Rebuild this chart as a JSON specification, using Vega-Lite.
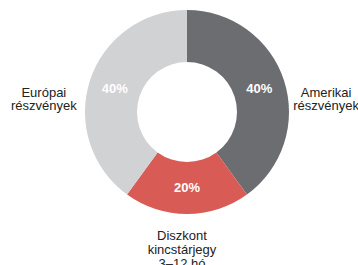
{
  "$schema": "https://vega.github.io/schema/vega-lite/v6.json",
  "width": 204,
  "height": 204,
  "autosize": {"type": "none"},
  "padding": {"left": 85, "top": 10, "right": 69, "bottom": 51},
  "background": "white",
  "config": {"view": {"stroke": null}},
  "data": {
    "values": [
      {"category": "Amerikai részvények", "label": "Amerikai\nrészvények", "value": 40, "pct": "40%"},
      {"category": "Diszkont kincstárjegy 3–12 hó", "label": "Diszkont\nkincstárjegy\n3–12 hó", "value": 20, "pct": "20%"},
      {"category": "Európai részvények", "label": "Európai\nrészvények", "value": 40, "pct": "40%"}
    ]
  },
  "encoding": {
    "theta": {"field": "value", "type": "quantitative", "stack": true},
    "order": {"field": "category", "type": "ordinal", "sort": "ascending"}
  },
  "layer": [
    {
      "mark": {"type": "arc", "outerRadius": 102, "innerRadius": 50, "strokeWidth": 0},
      "encoding": {
        "color": {
          "field": "category",
          "type": "nominal",
          "legend": null,
          "scale": {
            "domain": ["Amerikai részvények", "Diszkont kincstárjegy 3–12 hó", "Európai részvények"],
            "range": ["#6c6d70", "#d95b55", "#d1d2d4"]
          }
        }
      }
    },
    {
      "mark": {"type": "text", "radius": 76, "font": "Liberation Sans", "fontSize": 13, "fontWeight": "bold", "color": "white", "align": "center", "baseline": "middle"},
      "encoding": {"text": {"field": "pct", "type": "nominal"}}
    },
    {
      "mark": {"type": "text", "radius": 140, "dx": 6, "dy": 24, "font": "Liberation Sans", "fontSize": 13, "lineHeight": 13.5, "lineBreak": "\n", "color": "#222222", "align": "center", "baseline": "middle"},
      "encoding": {"text": {"condition": {"test": "datum.category === 'Amerikai részvények'", "field": "label"}, "value": ""}}
    },
    {
      "mark": {"type": "text", "radius": 140, "dx": -10, "dy": 24, "font": "Liberation Sans", "fontSize": 13, "lineHeight": 13.5, "lineBreak": "\n", "color": "#222222", "align": "center", "baseline": "middle"},
      "encoding": {"text": {"condition": {"test": "datum.category === 'Európai részvények'", "field": "label"}, "value": ""}}
    },
    {
      "mark": {"type": "text", "radius": 140, "dx": -5, "dy": -16, "font": "Liberation Sans", "fontSize": 13, "lineHeight": 14, "lineBreak": "\n", "color": "#222222", "align": "center", "baseline": "middle"},
      "encoding": {"text": {"condition": {"test": "datum.category === 'Diszkont kincstárjegy 3–12 hó'", "field": "label"}, "value": ""}}
    }
  ]
}
